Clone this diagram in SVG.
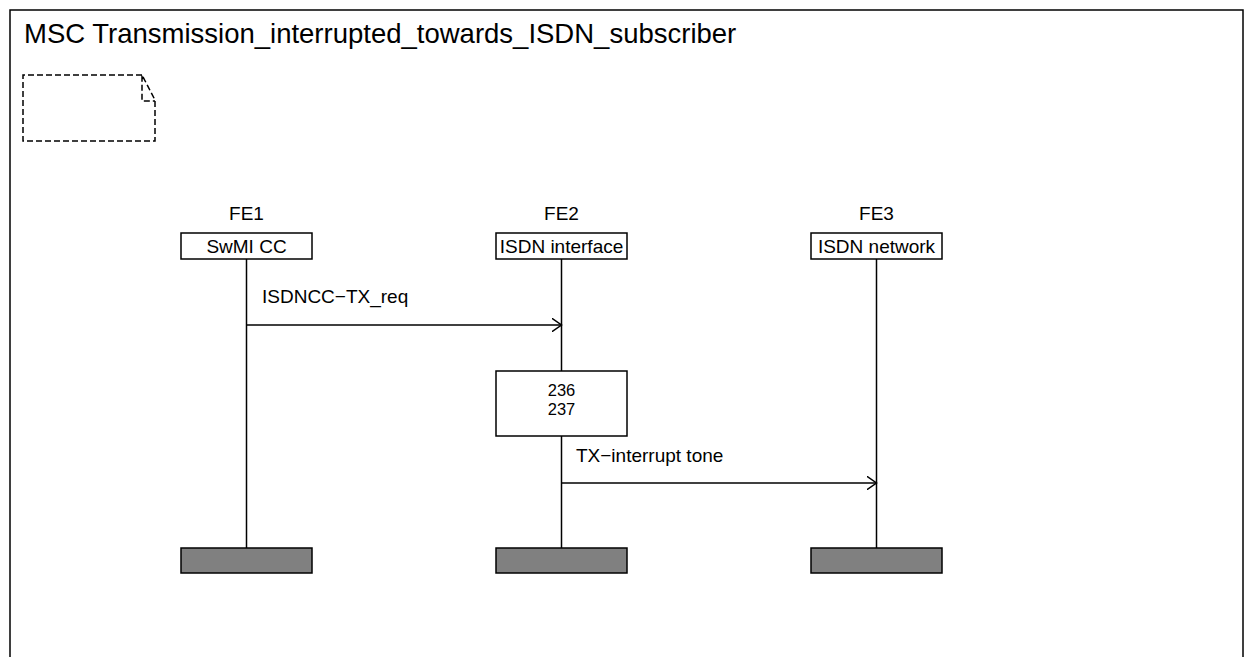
<svg xmlns="http://www.w3.org/2000/svg" width="1245" height="657" viewBox="0 0 1245 657">
<style>
text{font-family:"Liberation Sans",Arial,sans-serif;fill:#000}
.lbl{font-size:19px}
.mid{text-anchor:middle}
.box{fill:#fff;stroke:#000;stroke-width:1.5}
.life{stroke:#000;stroke-width:1.5}
.end{fill:#808080;stroke:#000;stroke-width:1.5}
.msg{stroke:#000;stroke-width:1.5;fill:none}
.dash{fill:none;stroke:#000;stroke-width:1.5;stroke-dasharray:6,3}
</style>
<defs>
<marker id="open" markerWidth="12" markerHeight="14" refX="10" refY="7" orient="auto" markerUnits="userSpaceOnUse">
<path d="M0,0 L10,7 L0,14" fill="none" stroke="#000" stroke-width="1.5"/>
</marker>
</defs>
<rect width="1245" height="657" fill="#fff"/>
<g id="frame">
<rect x="10" y="10" width="1233" height="660" fill="none" stroke="#000" stroke-width="1.5"/>
<text x="24" y="43" font-size="27.5">MSC Transmission_interrupted_towards_ISDN_subscriber</text>
</g>
<g id="note">
<path class="dash" d="M142,75 L23,75 L23,141 L155,141 L155,100 L142,75 L142,101 L155,101"/>
</g>
<g id="FE1">
<text class="lbl mid" x="246.5" y="220">FE1</text>
<line class="life" x1="246.5" y1="259" x2="246.5" y2="548"/>
<rect class="box" x="181" y="233" width="131" height="26"/>
<text class="lbl mid" x="246.5" y="253">SwMI CC</text>
<rect class="end" x="181" y="548" width="131" height="25"/>
</g>
<g id="FE2">
<text class="lbl mid" x="561.5" y="220">FE2</text>
<line class="life" x1="561.5" y1="259" x2="561.5" y2="548"/>
<rect class="box" x="496" y="233" width="131" height="26"/>
<text class="lbl mid" x="561.5" y="253">ISDN interface</text>
<rect class="end" x="496" y="548" width="131" height="25"/>
</g>
<g id="FE3">
<text class="lbl mid" x="876.5" y="220">FE3</text>
<line class="life" x1="876.5" y1="259" x2="876.5" y2="548"/>
<rect class="box" x="811" y="233" width="131" height="26"/>
<text class="lbl mid" x="876.5" y="253">ISDN network</text>
<rect class="end" x="811" y="548" width="131" height="25"/>
</g>
<g id="action">
<rect class="box" x="496" y="371" width="131" height="65"/>
<text class="mid" font-size="16.5" x="561.5" y="395.5">236</text>
<text class="mid" font-size="16.5" x="561.5" y="414.5">237</text>
</g>
<g id="connectors">
<line class="msg" x1="246.5" y1="325" x2="561.5" y2="325" marker-end="url(#open)"/>
<text class="lbl" x="262" y="303">ISDNCC−TX_req</text>
<line class="msg" x1="561.5" y1="483" x2="876.5" y2="483" marker-end="url(#open)"/>
<text class="lbl" x="576" y="462">TX−interrupt tone</text>
</g>
</svg>
